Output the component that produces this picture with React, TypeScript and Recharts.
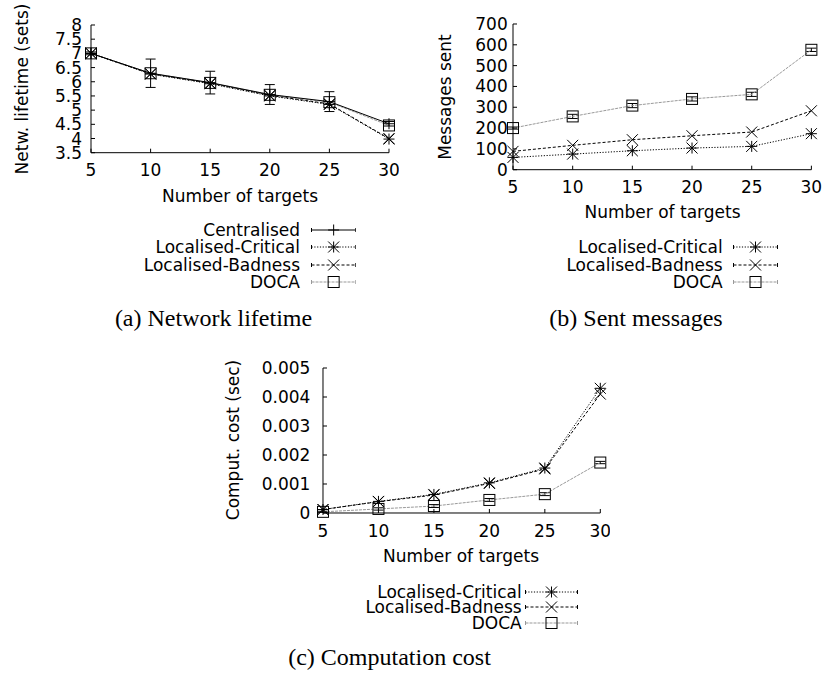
import { ErrorBar, Line, LineChart, XAxis, YAxis } from "recharts";

// Three gnuplot-style panels from a paper figure: (a) lifetime, (b) messages,
// (c) computation cost. Axis frames, inward ticks and legends are drawn to
// mimic the original EPS output.

const TARGETS = [5, 10, 15, 20, 25, 30];

// (a) network lifetime, in sets
const LIFE_CENTRALISED = [7.0, 6.3, 5.97, 5.55, 5.3, 4.52];
const LIFE_CRITICAL = [7.0, 6.27, 5.93, 5.5, 5.2, 3.98];
const LIFE_BADNESS = [7.0, 6.28, 5.95, 5.52, 5.22, 4.0];
const LIFE_DOCA = [7.0, 6.3, 5.96, 5.54, 5.28, 4.46];
const LIFE_ERR = [0.05, 0.5, 0.4, 0.35, 0.35, 0.08];
const LIFE_TICKS = [3.5, 4, 4.5, 5, 5.5, 6, 6.5, 7, 7.5, 8];

// (b) messages sent
const MSG_CRITICAL = [59, 75, 91, 104, 112, 173];
const MSG_BADNESS = [88, 117, 144, 163, 181, 283];
const MSG_DOCA = [200, 256, 308, 340, 362, 576];
const MSG_DOCA_ERR = [5, 10, 10, 10, 10, 8];
const MSG_TICKS = [0, 100, 200, 300, 400, 500, 600, 700];

// (c) computation cost, in seconds
const COST_CRITICAL = [0.00012, 0.0004, 0.00064, 0.00104, 0.00155, 0.0043];
const COST_BADNESS = [0.00012, 0.00039, 0.00062, 0.00102, 0.00152, 0.0041];
const COST_DOCA = [0.00004, 0.00014, 0.00024, 0.00045, 0.00065, 0.00174];
const COST_DOCA_ERR = [0.00002, 0.00004, 0.00005, 0.00005, 0.00005, 0.00004];
const COST_TICKS = [0, 0.001, 0.002, 0.003, 0.004, 0.005];

const SANS = "'DejaVu Sans', sans-serif";
const SERIF = "'Liberation Serif', serif";
const FONT = 17;

type Kind = "plus" | "star" | "cross" | "square";

const SERIES: Record<string, { label: string; stroke: string; dash?: string; marker: Kind }> = {
  centralised: { label: "Centralised", stroke: "#000", marker: "plus" },
  critical: { label: "Localised-Critical", stroke: "#000", dash: "1.2 1.6", marker: "star" },
  badness: { label: "Localised-Badness", stroke: "#000", dash: "3 2", marker: "cross" },
  doca: { label: "DOCA", stroke: "#999", dash: "3 1", marker: "square" },
};

function Marker({ kind, cx, cy, r = 5.5 }: { kind: Kind; cx: number; cy: number; r?: number }) {
  const s = { stroke: "#000", strokeWidth: 1, fill: "none" };
  if (kind === "square") {
    return <rect x={cx - r} y={cy - r} width={r * 2} height={r * 2} {...s} />;
  }
  const plus = (
    <>
      <line x1={cx - r} y1={cy} x2={cx + r} y2={cy} {...s} />
      <line x1={cx} y1={cy - r} x2={cx} y2={cy + r} {...s} />
    </>
  );
  const cross = (
    <>
      <line x1={cx - r} y1={cy - r} x2={cx + r} y2={cy + r} {...s} />
      <line x1={cx - r} y1={cy + r} x2={cx + r} y2={cy - r} {...s} />
    </>
  );
  return (
    <g>
      {kind !== "cross" && plus}
      {kind !== "plus" && cross}
    </g>
  );
}

const PAD_L = 110;
const PAD_T = 10;
const PAD_R = 10;
const PAD_B = 40;

type PanelProps = {
  data: Record<string, number>[];
  keys: string[];
  errKey?: Record<string, string>;
  box: [number, number, number, number]; // plot left, top, right, bottom
  yDomain: [number, number];
  yTicks: number[];
  yGap: number;
  xOff: number;
};

function Panel({ data, keys, errKey = {}, box, yDomain, yTicks, yGap, xOff }: PanelProps) {
  const [L, T, R, B] = box;
  const tickStyle = { fontSize: FONT, fill: "#000", fontFamily: SANS };
  return (
    <div style={{ position: "absolute", left: L - PAD_L, top: T - PAD_T }}>
      <LineChart
        width={R - L + PAD_L + PAD_R}
        height={B - T + PAD_T + PAD_B}
        data={data}
        margin={{ top: PAD_T, right: PAD_R, bottom: 0, left: 0 }}
      >
        <XAxis
          dataKey="t"
          type="number"
          domain={[5, 30]}
          ticks={TARGETS}
          height={PAD_B}
          tick={tickStyle}
          tickSize={-4}
          tickMargin={xOff - 1.9}
          stroke="#000"
        />
        <XAxis
          xAxisId="top"
          orientation="top"
          dataKey="t"
          type="number"
          domain={[5, 30]}
          ticks={TARGETS}
          height={0}
          tick={false}
          tickSize={-4}
          stroke="#000"
        />
        <YAxis
          type="number"
          domain={yDomain}
          ticks={yTicks}
          width={PAD_L}
          tick={tickStyle}
          tickSize={-4}
          tickMargin={yGap + 4}
          stroke="#000"
          interval={0}
        />
        <YAxis
          yAxisId="right"
          orientation="right"
          type="number"
          domain={yDomain}
          ticks={yTicks}
          width={0}
          tick={false}
          tickSize={-4}
          stroke="#000"
        />
        {keys.map((k) => {
          const st = SERIES[k];
          return (
            <Line
              key={k}
              dataKey={k}
              stroke={st.stroke}
              strokeWidth={1}
              strokeDasharray={st.dash}
              isAnimationActive={false}
              activeDot={false}
              dot={(p: any) => (
                <Marker key={`${k}-${p.index}`} kind={st.marker} cx={p.cx} cy={p.cy} />
              )}
            >
              {errKey[k] && (
                <ErrorBar
                  dataKey={errKey[k]}
                  direction="y"
                  width={5}
                  stroke="#000"
                  strokeWidth={1}
                  isAnimationActive={false}
                />
              )}
            </Line>
          );
        })}
      </LineChart>
    </div>
  );
}

function Legend({ keys, textRight, rows, x1, x2 }: {
  keys: string[];
  textRight: number;
  rows: number[];
  x1: number;
  x2: number;
}) {
  const w = x2 - x1;
  return (
    <>
      {keys.map((k, i) => {
        const st = SERIES[k];
        const y = rows[i];
        return (
          <div key={k}>
            <div
              style={{
                position: "absolute",
                left: textRight,
                top: y,
                transform: "translate(-100%, -50%)",
                whiteSpace: "nowrap",
                fontSize: FONT,
                lineHeight: 1,
              }}
            >
              {st.label}
            </div>
            <svg style={{ position: "absolute", left: x1, top: y - 8 }} width={w} height={16}>
              <line x1={0.5} y1={8} x2={w - 0.5} y2={8} stroke={st.stroke} strokeDasharray={st.dash} />
              <line x1={0.5} y1={6} x2={0.5} y2={10} stroke={st.stroke} />
              <line x1={w - 0.5} y1={6} x2={w - 0.5} y2={10} stroke={st.stroke} />
              <Marker kind={st.marker} cx={w / 2} cy={8} />
            </svg>
          </div>
        );
      })}
    </>
  );
}

function Text({ x, y, children, rotate = false, serif = false, size = FONT }: any) {
  return (
    <div
      style={{
        position: "absolute",
        left: x,
        top: y,
        transform: `translate(-50%, -50%)${rotate ? " rotate(-90deg)" : ""}`,
        whiteSpace: "nowrap",
        fontFamily: serif ? SERIF : SANS,
        fontSize: size,
        lineHeight: 1,
      }}
    >
      {children}
    </div>
  );
}

export default function App() {
  const lifeData = TARGETS.map((t, i) => ({
    t,
    centralised: LIFE_CENTRALISED[i],
    critical: LIFE_CRITICAL[i],
    badness: LIFE_BADNESS[i],
    doca: LIFE_DOCA[i],
    err: LIFE_ERR[i],
  }));
  const msgData = TARGETS.map((t, i) => ({
    t,
    critical: MSG_CRITICAL[i],
    badness: MSG_BADNESS[i],
    doca: MSG_DOCA[i],
    err: MSG_DOCA_ERR[i],
  }));
  const costData = TARGETS.map((t, i) => ({
    t,
    critical: COST_CRITICAL[i],
    badness: COST_BADNESS[i],
    doca: COST_DOCA[i],
    err: COST_DOCA_ERR[i],
  }));

  return (
    <div
      style={{
        position: "absolute",
        left: 0,
        top: 0,
        width: 827,
        height: 675,
        background: "#fff",
        fontFamily: SANS,
        color: "#000",
      }}
    >
      {/* (a) */}
      <Panel
        data={lifeData}
        keys={["doca", "badness", "critical", "centralised"]}
        errKey={{ centralised: "err" }}
        box={[91, 25, 389, 152.7]}
        yDomain={[3.5, 8]}
        yTicks={LIFE_TICKS}
        yGap={9}
        xOff={17.3}
      />
      <Text x={22} y={89} rotate>Netw. lifetime (sets)</Text>
      <Text x={240} y={196}>Number of targets</Text>
      <Legend
        keys={["centralised", "critical", "badness", "doca"]}
        textRight={300}
        rows={[230, 247.3, 265, 281.7]}
        x1={310.7}
        x2={356}
      />
      <Text x={213.5} y={318.3} serif size={24}>(a) Network lifetime</Text>

      {/* (b) */}
      <Panel
        data={msgData}
        keys={["doca", "badness", "critical"]}
        errKey={{ doca: "err" }}
        box={[513.3, 24.3, 811.7, 170]}
        yDomain={[0, 700]}
        yTicks={MSG_TICKS}
        yGap={5.3}
        xOff={17}
      />
      <Text x={445} y={97} rotate>Messages sent</Text>
      <Text x={662.5} y={212}>Number of targets</Text>
      <Legend
        keys={["critical", "badness", "doca"]}
        textRight={722.7}
        rows={[247.3, 265, 281.7]}
        x1={733.3}
        x2={778.3}
      />
      <Text x={636} y={318} serif size={24}>(b) Sent messages</Text>

      {/* (c) */}
      <Panel
        data={costData}
        keys={["doca", "badness", "critical"]}
        errKey={{ doca: "err" }}
        box={[322.7, 367.7, 600, 512.7]}
        yDomain={[0, 0.005]}
        yTicks={COST_TICKS}
        yGap={12.7}
        xOff={18.3}
      />
      <Text x={233} y={440} rotate>Comput. cost (sec)</Text>
      <Text x={461} y={555.5}>Number of targets</Text>
      <Legend
        keys={["critical", "badness", "doca"]}
        textRight={521.7}
        rows={[591.7, 607.3, 623.3]}
        x1={525}
        x2={578}
      />
      <Text x={389.5} y={656.7} serif size={24}>(c) Computation cost</Text>
    </div>
  );
}
